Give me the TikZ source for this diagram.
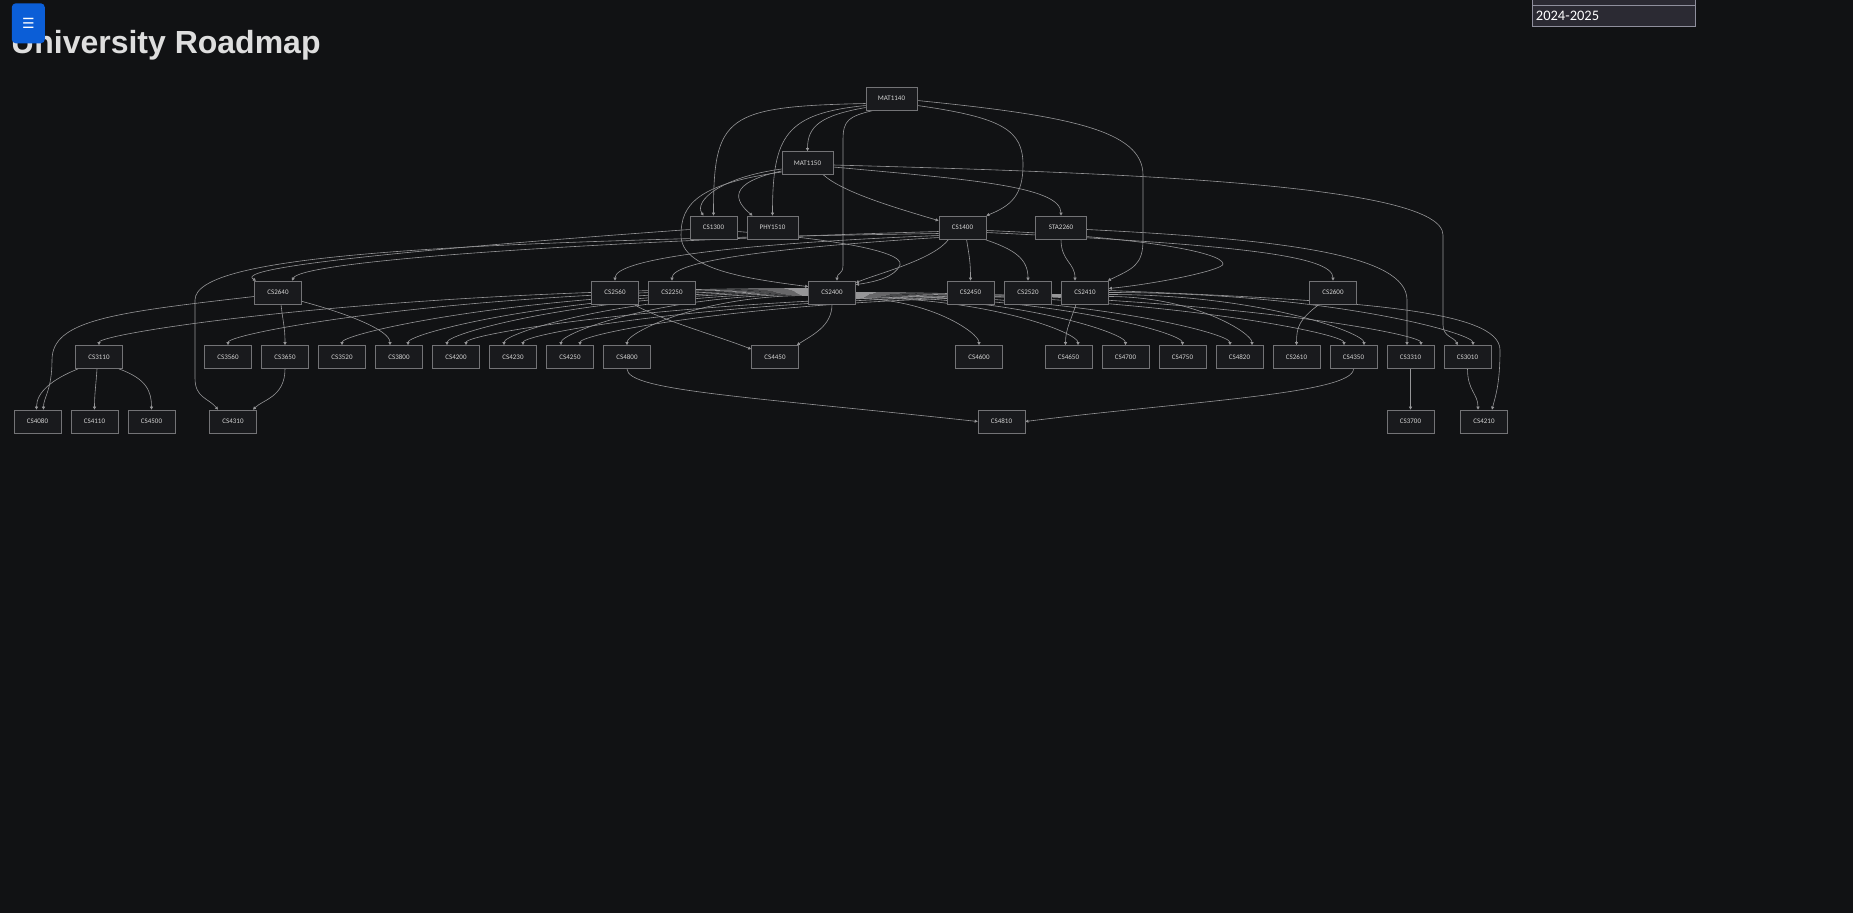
\documentclass[tikz,border=0pt]{standalone}
\usepackage{fontspec}
\setmainfont{Liberation Sans}
\newfontfamily\nodefont{Carlito}
\newfontfamily\glyphfont{DejaVu Sans}
\usetikzlibrary{arrows.meta,calc}
\definecolor{bgdark}{RGB}{17,18,20}
\definecolor{boxfill}{RGB}{25,26,29}
\definecolor{boxline}{RGB}{115,115,118}
\definecolor{boxtext}{RGB}{212,212,212}
\definecolor{wire}{RGB}{150,150,152}
\definecolor{titlegray}{RGB}{222,222,222}
\definecolor{btnblue}{RGB}{11,94,215}
\definecolor{selfill}{RGB}{43,42,51}
\definecolor{selline}{RGB}{143,143,157}
\pgfdeclarelayer{backdrop}
\pgfdeclarelayer{wires}
\pgfsetlayers{backdrop,wires,main}
\tikzset{
  course/.style  = {rectangle, draw=boxline, fill=boxfill, line width=0.7pt,
                    minimum width=47pt, minimum height=23pt, inner sep=0pt,
                    text=boxtext, font=\nodefont\fontsize{7}{8}\selectfont},
  mathbox/.style = {course, minimum width=51pt},
  prereq/.style  = {-{Triangle[length=3pt,width=3pt]}, draw=wire,
                    line width=0.6pt},
  menubtn/.style = {rectangle, rounded corners=4pt, fill=btnblue,
                    minimum width=33pt, minimum height=40pt, inner sep=0pt,
                    text=white, font=\glyphfont\fontsize{14}{14}\selectfont},
  selbox/.style  = {rectangle, draw=selline, fill=selfill, line width=0.8pt,
                    text=white, font=\nodefont\fontsize{14.5}{16}\selectfont},
}

\begin{document}
\begin{tikzpicture}[x=1pt, y=-1pt]

  \useasboundingbox (0,0) rectangle (1853,913);
  \begin{pgfonlayer}{backdrop}
    \fill[bgdark] (0,0) rectangle (1853,913);
  \end{pgfonlayer}

  %% ---- Page header ----
  \node[anchor=base west, inner sep=0pt, text=titlegray,
        font=\bfseries\fontsize{32}{38}\selectfont]
        (title) at (11,53) {University Roadmap};
  \node[menubtn] (menu) at (28.3,23.3) {☰};
  \node[selbox, anchor=north west, minimum width=163.5pt,
        minimum height=22pt, inner sep=0pt] (prevsel) at (1531.5,-17.5) {};
  \node[selbox, anchor=north west, text width=155.5pt, inner xsep=4pt,
        inner ysep=0pt, minimum height=21.5pt]
        (yearsel) at (1531.5,4.5) {2024-2025};

  %% ---- First year ----
  \node[mathbox] (mat1140) at (891.5,98.5)  {MAT1140};
  \node[mathbox] (mat1150) at (807.5,163)   {MAT1150};
  \node[course]  (cs1300)  at (713.5,227.5) {CS1300};
  \node[mathbox] (phy1510) at (772.5,227.5) {PHY1510};
  \node[course]  (cs1400)  at (962.5,227.5) {CS1400};
  \node[mathbox] (sta2260) at (1061,227.5)  {STA2260};

  %% ---- Second year ----
  \foreach \x/\c in {278/2640, 615/2560, 672/2250, 832/2400, 970.5/2450,
                     1028/2520, 1085/2410, 1333/2600}
    \node[course] (cs\c) at (\x,292.5) {CS\c};

  %% ---- Third / fourth year ----
  \foreach \x/\c in {99/3110, 228/3560, 285/3650, 342/3520, 399/3800,
                     456/4200, 513/4230, 570/4250, 627/4800, 775/4450,
                     979/4600, 1068.5/4650, 1125.5/4700, 1182.5/4750,
                     1239.5/4820, 1296.5/2610, 1353.5/4350, 1410.5/3310,
                     1467.5/3010}
    \node[course] (cs\c) at (\x,357) {CS\c};
  \foreach \x/\c in {37.5/4080, 94.5/4110, 151.5/4500, 233/4310,
                     1001.5/4810, 1410.5/3700, 1484/4210}
    \node[course] (cs\c) at (\x,421.5) {CS\c};

  \begin{pgfonlayer}{wires}

  %% ---- From MAT1140 ----
  \draw[prereq] ($(mat1140.west)+(0,5)$) .. controls +(-140,3)
        and +(0,-100) .. (cs1300.north);
  \draw[prereq] ($(mat1140.west)+(0,7)$) .. controls +(-80,8)
        and +(0,-80) .. (phy1510.north);
  \draw[prereq] ($(mat1140.west)+(0,9)$) .. controls +(-45,8)
        and +(0,-25) .. (mat1150.north);
  \draw[prereq] ($(mat1140.south west)+(8,0)$) .. controls +(-25,6)
        and +(0,-20) .. (843,140) -- (843,265) .. controls +(0,10)
        and +(0,-8) .. ($(cs2400.north)+(5,0)$);
  \draw[prereq] ($(mat1140.east)+(0,7)$) .. controls +(85,12)
        and +(0,-35) .. (1023,165) .. controls +(0,30)
        and +(25,-10) .. (cs1400.north east);
  \draw[prereq] ($(mat1140.east)+(0,2)$) .. controls +(150,15)
        and +(0,-45) .. (1143,175) -- (1143,240) .. controls +(0,25)
        and +(25,-12) .. ($(cs2410.north east)+(-1,0)$);

  %% ---- From MAT1150 ----
  \draw[prereq] ($(mat1150.west)+(0,6)$) .. controls +(-60,8)
        and +(-10,-15) .. ($(cs1300.north)+(-10,0)$);
  \draw[prereq] ($(mat1150.west)+(0,8)$) .. controls +(-55,12)
        and +(-18,-15) .. ($(phy1510.north)+(-20,0)$);
  \draw[prereq] ($(mat1150.south east)+(-10,0)$) .. controls +(20,18)
        and +(-40,-12) .. ($(cs1400.north west)+(0,5)$);
  \draw[prereq] ($(mat1150.east)+(0,4)$) .. controls +(130,12)
        and +(0,-30) .. (sta2260.north);
  \draw[prereq] ($(mat1150.east)+(0,2)$) .. controls +(300,8)
        and +(0,-50) .. (1443,235) -- (1443,325) .. controls +(0,12)
        and +(-3,-8) .. ($(cs3010.north)+(-10,0)$);
  \draw[prereq] ($(mat1150.west)+(0,9)$) .. controls +(-85,12)
        and +(0,-30) .. (681,235) .. controls +(0,35)
        and +(-60,-8) .. ($(cs2400.north west)+(0,6)$);

  %% ---- From CS1300 / CS1400 / STA2260 ----
  \draw[prereq] ($(cs1300.west)+(0,2)$) .. controls +(-250,18)
        and +(-25,-14) .. ($(cs2640.north)+(-22,0)$);
  \draw[prereq] ($(cs1300.east)+(0,4)$) .. controls +(80,6)
        and +(5,-15) .. (900,265) .. controls +(-5,12)
        and +(20,-3) .. ($(cs2400.north east)+(0,4)$);
  \draw[prereq] ($(cs1400.west)+(0,4)$) .. controls +(-350,10)
        and +(10,-20) .. ($(cs2640.north)+(14,0)$);
  \draw[prereq] ($(cs1400.west)+(0,6)$) .. controls +(-500,8)
        and +(0,-45) .. (195,300) -- (195,378) .. controls +(0,20)
        and +(-10,-12) .. ($(cs4310.north)+(-15,0)$);
  \draw[prereq] ($(cs1400.west)+(0,8)$) .. controls +(-200,8)
        and +(0,-22) .. (cs2560.north);
  \draw[prereq] ($(cs1400.west)+(0,10)$) .. controls +(-160,10)
        and +(0,-20) .. (cs2250.north);
  \draw[prereq] ($(cs1400.south west)+(10,0)$) .. controls +(-15,20)
        and +(25,-10) .. ($(cs2400.north east)+(0,2)$);
  \draw[prereq] ($(cs1400.south)+(4,0)$) .. controls +(3,18)
        and +(0,-18) .. (cs2450.north);
  \draw[prereq] ($(cs1400.south east)+(-2,0)$) .. controls +(30,10)
        and +(0,-22) .. (cs2520.north);
  \draw[prereq] ($(cs1400.east)+(0,3)$) .. controls +(150,6)
        and +(0,-12) .. (1223,264) .. controls +(0,6)
        and +(50,-5) .. ($(cs2410.east)+(0,-4)$);
  \draw[prereq] ($(cs1400.east)+(0,5)$) .. controls +(250,12)
        and +(0,-25) .. (cs2600.north);
  \draw[prereq] (sta2260.south) .. controls +(0,22)
        and +(0,-18) .. ($(cs2410.north)+(-10,0)$);
  \draw[prereq] ($(sta2260.east)+(0,2)$) .. controls +(200,10)
        and +(0,-45) .. (1407,300) -- ($(cs3310.north)+(-3.5,0)$);

  %% ---- Second year to upper years ----
  \draw[prereq] ($(cs2640.south)+(3,0)$) .. controls +(2,18)
        and +(0,-18) .. (cs3650.north);
  \draw[prereq] ($(cs2640.south east)+(0,-3)$) .. controls +(45,12)
        and +(0,-15) .. ($(cs3800.north)+(-9,0)$);
  \draw[prereq] ($(cs2640.west)+(0,4)$) .. controls +(-140,16)
        and +(0,-40) .. (52,360) .. controls +(0,30)
        and +(0,-12) .. ($(cs4080.north)+(6,0)$);
  \draw[prereq] ($(cs2560.south east)+(-5,0)$) .. controls +(25,15)
        and +(-30,-12) .. ($(cs4450.north west)+(0,4)$);
  \draw[prereq] (cs2400.south) .. controls +(0,22)
        and +(15,-10) .. ($(cs4450.north east)+(-2,0)$);
  \draw[prereq] ($(cs2410.south)+(-9,0)$) .. controls +(-5,16)
        and +(0,-16) .. ($(cs4650.north)+(-3,0)$);
  \draw[prereq] ($(cs2600.south west)+(10,0)$) .. controls +(-20,15)
        and +(0,-18) .. (cs2610.north);
  \draw[prereq] ($(cs2410.east)+(0,-2)$) .. controls +(250,10)
        and +(0,-40) .. (1500,350) .. controls +(0,35)
        and +(3,-12) .. ($(cs4210.north)+(8,0)$);

  %% ---- CS2400 / CS2410 fans ----
  \foreach \tgt/\dx/\sy in {cs3110/0/-4, cs3560/0/-3, cs3520/0/-2,
      cs3800/9/-1, cs4200/-9/0, cs4230/-9/1, cs4250/-9/2, cs4800/0/3}{
    \coordinate (s) at ($(cs2400.west)+(0,\sy)$);
    \coordinate (t) at ($(\tgt.north)+(\dx,0)$);
    \draw[prereq] (s) .. controls ($(s)!0.6!(s -| t)$)
          and ($(t)+(0,-12)$) .. (t);
  }
  \foreach \tgt/\dx/\sy in {cs4600/0/6, cs4650/9.5/5, cs4700/0/4,
      cs4750/0/3, cs4820/-9.5/2, cs4350/-9.5/1, cs3310/10.5/0}{
    \coordinate (s) at ($(cs2400.east)+(0,\sy)$);
    \coordinate (t) at ($(\tgt.north)+(\dx,0)$);
    \draw[prereq] (s) .. controls ($(s)!0.6!(s -| t)$)
          and ($(t)+(0,-12)$) .. (t);
  }
  \foreach \tgt/\dx/\sy in {cs4200/10/2, cs4230/10/3, cs4250/10/4}{
    \coordinate (s) at ($(cs2410.west)+(0,\sy)$);
    \coordinate (t) at ($(\tgt.north)+(\dx,0)$);
    \draw[prereq] (s) .. controls ($(s)!0.6!(s -| t)$)
          and ($(t)+(0,-12)$) .. (t);
  }
  \foreach \tgt/\dx/\sy in {cs4820/12.5/4, cs4350/10.5/2, cs3010/5.5/0}{
    \coordinate (s) at ($(cs2410.east)+(0,\sy)$);
    \coordinate (t) at ($(\tgt.north)+(\dx,0)$);
    \draw[prereq] (s) .. controls ($(s)!0.6!(s -| t)$)
          and ($(t)+(0,-12)$) .. (t);
  }

  %% ---- Upper years ----
  \draw[prereq] ($(cs3110.south west)+(3,0)$) .. controls +(-25,10)
        and +(0,-18) .. ($(cs4080.north)+(-1,0)$);
  \draw[prereq] ($(cs3110.south)+(-2,0)$) .. controls +(-1,16)
        and +(0,-16) .. (cs4110.north);
  \draw[prereq] ($(cs3110.south east)+(-4,0)$) .. controls +(28,10)
        and +(0,-18) .. (cs4500.north);
  \draw[prereq] (cs3650.south) .. controls +(0,28)
        and +(10,-10) .. ($(cs4310.north)+(20,0)$);
  \draw[prereq] (cs3310.south) -- (cs3700.north);
  \draw[prereq] (cs3010.south) .. controls +(0,22)
        and +(0,-16) .. ($(cs4210.north)+(-6,0)$);
  \draw[prereq] (cs4800.south) .. controls +(0,22)
        and +(-230,-25) .. (cs4810.west);
  \draw[prereq] (cs4350.south) .. controls +(0,25)
        and +(160,-20) .. (cs4810.east);

  \end{pgfonlayer}

\end{tikzpicture}
\end{document}
